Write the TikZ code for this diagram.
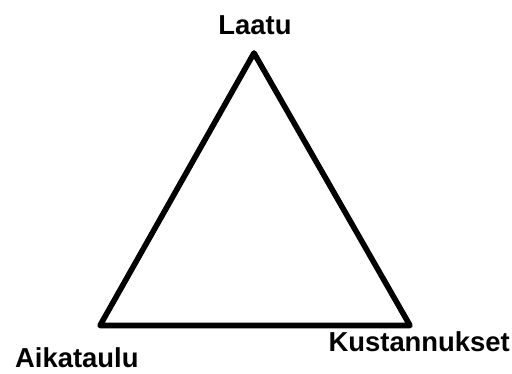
\documentclass[tikz,border=0pt]{standalone}
\usepackage{fontspec}
\setmainfont{Liberation Sans}
\begin{document}
\begin{tikzpicture}[x=1pt,y=-1pt,
  lbl/.style={inner sep=0pt,font=\fontsize{27.4}{30}\selectfont\bfseries},
  edge/.style={line width=5.6pt,line join=round,line cap=round}]
\useasboundingbox[fill=white] (0,0) rectangle (512,374);
\coordinate (top) at (254,53);
\coordinate (bl) at (100,325.5);
\coordinate (br) at (410,325.5);
\draw[edge] (top) -- (bl) -- (br) -- cycle;
\node[lbl,anchor=base] (laatu) at (255,35) {Laatu};
\node[lbl,anchor=base west] (aika) at (15,367) {Aikataulu};
\node[lbl,anchor=base east] (kust) at (510,352) {Kustannukset};
\end{tikzpicture}
\end{document}
